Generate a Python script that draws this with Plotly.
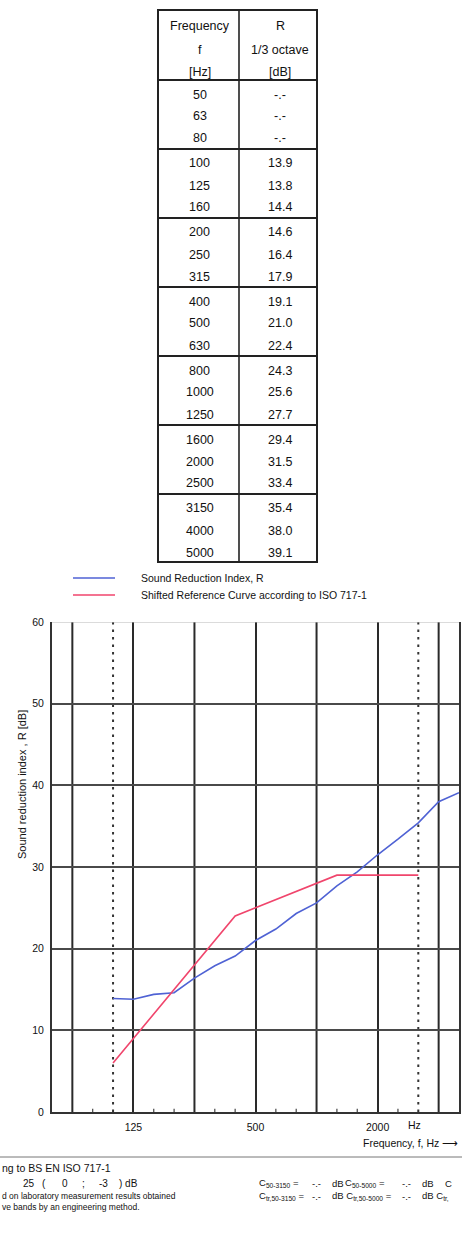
import plotly.graph_objects as go

W, H = 462, 1239
FONT = "Liberation Sans, Arial, sans-serif"

# ---------------- data ----------------
freqs = [50, 63, 80, 100, 125, 160, 200, 250, 315, 400, 500, 630, 800,
         1000, 1250, 1600, 2000, 2500, 3150, 4000, 5000]
R_values = [None, None, None, 13.9, 13.8, 14.4, 14.6, 16.4, 17.9, 19.1, 21.0,
            22.4, 24.3, 25.6, 27.7, 29.4, 31.5, 33.4, 35.4, 38.0, 39.1]
ref_shifted = [None, None, None, 6, 9, 12, 15, 18, 21, 24, 25, 26, 27, 28,
               29, 29, 29, 29, 29, None, None]
labeled_octaves = [125, 500, 2000]
unlabeled_octaves = [63, 250, 1000, 4000]
dotted_lines = [100, 3150]
minor_bands = [80, 160, 200, 315, 400, 630, 800, 1250, 1600, 2500]
y_ticks = [0, 10, 20, 30, 40, 50, 60]

cats = [str(f) for f in freqs]


def px(x):
    return x / W


def py(y):
    return 1 - y / H


fig = go.Figure()
fig.add_trace(go.Scatter(x=cats, y=R_values, mode="lines",
                         line=dict(color="#4f62d4", width=1.6),
                         name="Sound Reduction Index, R", showlegend=False))
fig.add_trace(go.Scatter(x=cats, y=ref_shifted, mode="lines",
                         line=dict(color="#f0456c", width=1.6),
                         name="Shifted Reference Curve", showlegend=False))

xdom = [px(52), px(459)]
ydom = [py(1112), py(622)]

fig.update_layout(
    width=W, height=H,
    margin=dict(l=0, r=0, t=0, b=0),
    paper_bgcolor="white", plot_bgcolor="white",
    font=dict(family=FONT, color="#111"),
    xaxis=dict(domain=xdom, type="category", categoryorder="array",
               categoryarray=cats, range=[0, len(cats) - 1],
               tickvals=[str(f) for f in labeled_octaves],
               ticktext=[str(f) for f in labeled_octaves],
               showgrid=True, gridcolor="#2a2a2a", gridwidth=2,
               showline=True, linecolor="#333", linewidth=2,
               ticks="outside", ticklen=4, tickcolor="rgba(0,0,0,0)",
               tickfont=dict(size=10.5, color="#111"),
               zeroline=False, automargin=False, anchor="y"),
    yaxis=dict(domain=ydom, range=[0, 60], tickvals=y_ticks,
               showgrid=True, gridcolor="#4a4a4a", gridwidth=1.6,
               showline=True, linecolor="#333", linewidth=2, mirror=True,
               ticks="outside", ticklen=4, tickcolor="rgba(0,0,0,0)",
               tickfont=dict(size=10.5, color="#111"),
               zeroline=False, automargin=False),
)

shapes = []
# unlabeled octave grid lines
for f in unlabeled_octaves:
    i = freqs.index(f)
    shapes.append(dict(type="line", xref="x", yref="y", x0=i, x1=i, y0=0, y1=60,
                       layer="below", line=dict(color="#2a2a2a", width=2)))
# dotted band limits
for f in dotted_lines:
    i = freqs.index(f)
    shapes.append(dict(type="line", xref="x", yref="y", x0=i, x1=i, y0=0, y1=60,
                       layer="below",
                       line=dict(color="#333", width=2, dash="2.5px,5px")))
# minor third-octave ticks on the frequency axis
for f in minor_bands:
    i = freqs.index(f)
    shapes.append(dict(type="line", xref="x", yref="y", x0=i, x1=i, y0=0, y1=0.4,
                       line=dict(color="#444", width=1.2)))
# light top border
shapes.append(dict(type="line", xref="paper", yref="y", x0=xdom[0], x1=xdom[1],
                   y0=60, y1=60, line=dict(color="#b8b8b8", width=1.2)))

# table
TL, TM, TR, TT, TB = 158, 239, 317, 10, 562
HDR = 80
GRP = 69
shapes.append(dict(type="rect", xref="paper", yref="paper",
                   x0=px(TL), x1=px(TR), y0=py(TT), y1=py(TB),
                   line=dict(color="#222", width=2)))
shapes.append(dict(type="line", xref="paper", yref="paper",
                   x0=px(TM), x1=px(TM), y0=py(TT), y1=py(TB),
                   line=dict(color="#222", width=1.6)))
for g in range(7):
    yy = HDR + GRP * g
    shapes.append(dict(type="line", xref="paper", yref="paper",
                       x0=px(TL), x1=px(TR), y0=py(yy), y1=py(yy),
                       line=dict(color="#222", width=2)))

# legend lines
shapes.append(dict(type="line", xref="paper", yref="paper", x0=px(73), x1=px(115),
                   y0=py(578), y1=py(578), line=dict(color="#4f62d4", width=1.6)))
shapes.append(dict(type="line", xref="paper", yref="paper", x0=px(73), x1=px(115),
                   y0=py(595), y1=py(595), line=dict(color="#f0456c", width=1.6)))
# footer separator
shapes.append(dict(type="line", xref="paper", yref="paper", x0=0, x1=1,
                   y0=py(1157), y1=py(1157), line=dict(color="#777", width=1)))

fig.update_layout(shapes=shapes)

ann = []


def text(x, y, s, size=10.5, xanchor="left", **kw):
    ann.append(dict(x=px(x), y=py(y), xref="paper", yref="paper", text=s,
                    showarrow=False, xanchor=xanchor, yanchor="middle",
                    font=dict(family=FONT, size=size, color="#111"), **kw))


# table header
cL = (TL + TM) / 2 + 1
cR = (TM + TR) / 2 + 2
for s, yy in [("Frequency", 26), ("f", 50), ("[Hz]", 72)]:
    text(cL, yy, s, 12.5, "center")
for s, yy in [("R", 26), ("1/3 octave", 50), ("[dB]", 72)]:
    text(cR, yy, s, 12.5, "center")
for i, f in enumerate(freqs):
    g, r = divmod(i, 3)
    yy = HDR + GRP * g + 14.5 + 22 * r
    text(cL, yy, str(f), 12.5, "center")
    v = R_values[i]
    text(cR, yy, "-.-" if v is None else f"{v:.1f}", 12.5, "center")

# legend texts
text(139, 578, "Sound Reduction Index, R", 10.5)
text(139, 595, "Shifted Reference Curve according to ISO 717-1", 10.5)

# axis titles
text(22, 785, "Sound reduction index , R [dB]", 11, "center", textangle=-90)
ann.append(dict(x=freqs.index(3150), y=py(1125), xref="x", yref="paper", text="Hz",
                showarrow=False, xanchor="center", yanchor="middle", xshift=-4,
                font=dict(family=FONT, size=10.5, color="#111")))
text(460, 1143, "Frequency, f, Hz \u27f6", 10.5, "right")

# footer
text(0, 1168, "ng to BS EN ISO 717-1", 10.5)
for s, xx in [("25", 21), ("(", 40), ("0", 60), (";", 80), ("-3", 97), (") dB", 117)]:
    text(xx, 1183, s, 10)
text(0, 1196, "d on laboratory measurement results obtained", 8.5)
text(0, 1207, "ve bands by an engineering method.", 8.5)

for s, xx in [("C<sub>50-3150</sub> =", 257), ("-.-", 310), ("dB", 330),
              ("C<sub>50-5000</sub> =", 343), ("-.-", 400), ("dB", 420), ("C", 443)]:
    text(xx, 1183, s, 9.5)
for s, xx in [("C<sub>tr,50-3150</sub> =", 257), ("-.-", 310),
              ("dB C<sub>tr,50-5000</sub> =", 330), ("-.-", 400), ("dB C<sub>tr,</sub>", 420)]:
    text(xx, 1196, s, 9.5)

fig.update_layout(annotations=ann)
fig.write_html("out.html", config={"displayModeBar": False},
               post_script="document.body.style.margin='0';")
